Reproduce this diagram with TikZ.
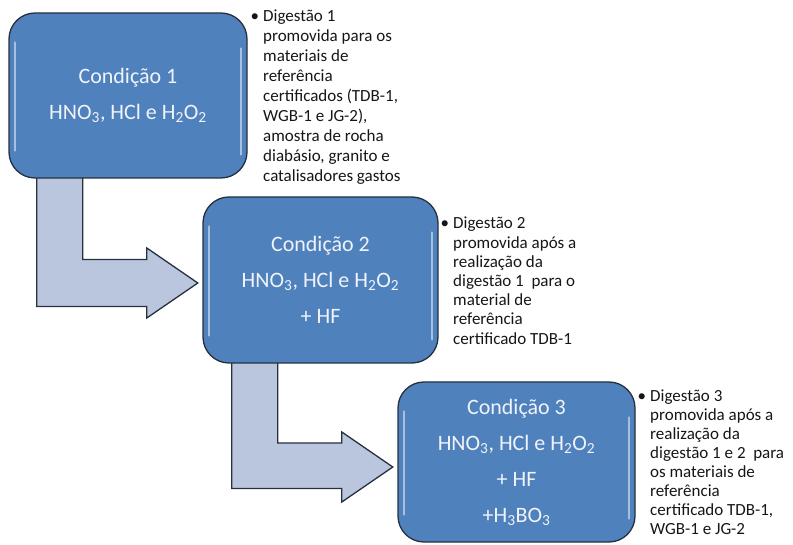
\documentclass[tikz,border=0pt]{standalone}
\usepackage{fontspec}
\setmainfont{Carlito}
\usetikzlibrary{calc}
\definecolor{boxblue}{RGB}{79,129,189}
\definecolor{boxedge}{RGB}{38,48,62}
\definecolor{arrowfill}{RGB}{185,198,221}
\definecolor{condtxt}{RGB}{240,243,249}
\definecolor{sidetxt}{RGB}{22,22,22}
\tikzset{
  condbox/.style={draw=boxedge, line width=1.3pt, fill=boxblue, rounded corners=26pt,
    text=condtxt, align=center, font=\fontsize{22}{36}\selectfont, inner sep=0pt},
  hilite/.style={draw=white, draw opacity=0.5, line width=2.2pt, line cap=round},
  bentarrow/.style={draw=boxedge, line width=1.3pt, fill=arrowfill, line join=miter},
  sidenote/.style={anchor=north west, align=left, text=sidetxt, inner sep=0pt,
    font=\fontsize{17}{20}\selectfont}
}
\newcommand{\bul}{\llap{\textbullet\hspace{4pt}}}
\begin{document}
\begin{tikzpicture}[x=1pt,y=-1pt]
\useasboundingbox (0,0) rectangle (793,545);

% boxes (positions)
\coordinate (p1) at (128,95.5);
\coordinate (p2) at (320.5,280);
\coordinate (p3) at (516.5,462);

% arrows drawn first (their stems go under the boxes)
\path (p1) node[minimum width=238pt, minimum height=165pt, inner sep=0pt] (g1) {};
\path (p2) node[minimum width=235pt, minimum height=166pt, inner sep=0pt] (g2) {};
\path (p3) node[minimum width=237pt, minimum height=160pt, inner sep=0pt] (g3) {};

\draw[bentarrow] let \p1=(g1.south west), \p2=(g2.west) in
  (\x1+28pt,\y1+10pt) -- (\x1+28pt,\y2-26.5pt) -- (\x2-56pt,\y2-26.5pt)
  -- (\x2-56pt,\y2-38pt) -- (\x2-5pt,\y2-3pt) -- (\x2-56pt,\y2+32pt)
  -- (\x2-56pt,\y2+20.5pt) -- (\x1+74pt,\y2+20.5pt) -- (\x1+74pt,\y1+10pt) -- cycle;
\draw[bentarrow] let \p1=(g2.south west), \p2=(g3.west) in
  (\x1+29pt,\y1+10pt) -- (\x1+29pt,\y2-26.5pt) -- (\x2-56pt,\y2-26.5pt)
  -- (\x2-56pt,\y2-40pt) -- (\x2-5pt,\y2-5pt) -- (\x2-56pt,\y2+30pt)
  -- (\x2-56pt,\y2+19pt) -- (\x1+75pt,\y2+19pt) -- (\x1+75pt,\y1+10pt) -- cycle;

\node[condbox, minimum width=238pt, minimum height=165pt] (c1) at (p1)
  {Condição 1\\HNO\textsubscript{3}, HCl e H\textsubscript{2}O\textsubscript{2}};
\node[condbox, minimum width=235pt, minimum height=166pt] (c2) at (p2)
  {Condição 2\\HNO\textsubscript{3}, HCl e H\textsubscript{2}O\textsubscript{2}\\+ HF};
\node[condbox, minimum width=237pt, minimum height=160pt] (c3) at (p3)
  {Condição 3\\HNO\textsubscript{3}, HCl e H\textsubscript{2}O\textsubscript{2}\\+ HF\\+H\textsubscript{3}BO\textsubscript{3}};

% bevel highlights
\foreach \b in {c1,c2,c3}{
  \draw[hilite] ([shift={(7pt,-30pt)}]\b.north west) -- ([shift={(7pt,28pt)}]\b.south west);
  \draw[hilite] ([shift={(-7pt,-36pt)}]\b.north east) -- ([shift={(-7pt,24pt)}]\b.south east);
}

% side notes
\node[sidenote] (n1) at (263,10) {\bul Digestão 1\\promovida para os\\materiais de\\referência\\certificados (TDB-1,\\WGB-1 e JG-2),\\amostra de rocha\\diabásio, granito e\\catalisadores gastos};
\node[sidenote, font=\fontsize{17}{19.2}\selectfont] (n2) at (453,217) {\bul Digestão 2\\promovida após a\\realização da\\digestão 1\ \ para o\\material de\\referência\\certificado TDB-1};
\node[sidenote, font=\fontsize{17}{18.9}\selectfont] (n3) at (650,390) {\bul Digestão 3\\promovida após a\\realização da\\digestão 1 e 2\ \ para\\os materiais de\\referência\\certificado TDB-1,\\WGB-1 e JG-2};
\end{tikzpicture}
\end{document}
